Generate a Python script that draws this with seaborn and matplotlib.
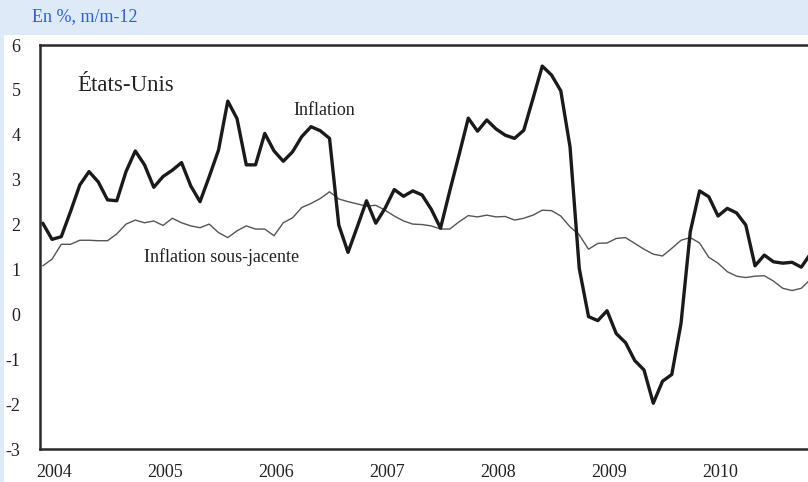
import matplotlib
matplotlib.use('Agg')
import matplotlib.pyplot as plt
import matplotlib.transforms as mtransforms
from matplotlib.patches import Rectangle
import numpy as np
import pandas as pd
import seaborn as sns

# Monthly year-on-year rates, Jan 2004 onwards
inflation = [2.03, 1.67, 1.73, 2.29, 2.88, 3.18, 2.95, 2.55, 2.53, 3.18, 3.64, 3.33,
             2.83, 3.07, 3.21, 3.38, 2.86, 2.51, 3.07, 3.66, 4.75, 4.36, 3.33, 3.33,
             4.03, 3.64, 3.41, 3.62, 3.96, 4.18, 4.09, 3.92, 1.99, 1.38, 1.95, 2.53,
             2.03, 2.36, 2.78, 2.63, 2.75, 2.66, 2.34, 1.92, 2.75, 3.55, 4.37, 4.08,
             4.33, 4.13, 3.99, 3.92, 4.10, 4.81, 5.53, 5.33, 4.98, 3.73, 1.02, -0.05,
             -0.14, 0.08, -0.43, -0.63, -1.03, -1.24, -1.98, -1.49, -1.34, -0.20, 1.84, 2.75,
             2.62, 2.19, 2.36, 2.26, 1.99, 1.08, 1.32, 1.17, 1.14, 1.16, 1.05, 1.35]
core = [1.08, 1.23, 1.56, 1.56, 1.65, 1.65, 1.64, 1.64, 1.79, 2.01, 2.10, 2.04,
        2.08, 1.98, 2.14, 2.04, 1.97, 1.93, 2.01, 1.82, 1.71, 1.86, 1.97, 1.90,
        1.90, 1.75, 2.04, 2.15, 2.38, 2.47, 2.58, 2.73, 2.57, 2.51, 2.46, 2.41,
        2.43, 2.32, 2.19, 2.08, 2.01, 2.00, 1.97, 1.90, 1.90, 2.06, 2.20, 2.17,
        2.21, 2.17, 2.18, 2.10, 2.14, 2.21, 2.32, 2.31, 2.19, 1.95, 1.77, 1.45,
        1.58, 1.59, 1.69, 1.71, 1.58, 1.45, 1.34, 1.30, 1.47, 1.65, 1.71, 1.59,
        1.27, 1.14, 0.95, 0.85, 0.82, 0.85, 0.86, 0.74, 0.58, 0.53, 0.58, 0.78]
years = [2004, 2005, 2006, 2007, 2008, 2009, 2010]

df = pd.DataFrame({'t': 2004 + (np.arange(len(inflation)) + 0.3) / 12,
                   'inflation': inflation, 'core': core})

sns.set_style('white')
plt.rcParams['font.family'] = ['Liberation Serif', 'DejaVu Serif']
plt.rcParams['axes.unicode_minus'] = False

W, H = 808, 482
fig = plt.figure(figsize=(W / 100, H / 100), dpi=100)
fig.patch.set_facecolor('white')
# light blue header band and left strip
fig.patches.append(Rectangle((0, 1 - 35 / H), 1, 35 / H, transform=fig.transFigure,
                             facecolor='#dfeaf8', edgecolor='none', zorder=0))
fig.patches.append(Rectangle((0, 0), 4 / W, 1, transform=fig.transFigure,
                             facecolor='#dfeaf8', edgecolor='none', zorder=0))
fig.text(32 / W, 1 - 17 / H, 'En %, m/m-12', color='#2b5fd9', fontsize=13, va='center')

ax = fig.add_axes([40 / W, 1 - 449 / H, 1 - 40 / W, (449 - 45) / H])
ax.set_facecolor('white')

sns.lineplot(data=df, x='t', y='core', ax=ax, color='#555555', lw=1.0)
sns.lineplot(data=df, x='t', y='inflation', ax=ax, color='#1a1a1a', lw=2.4)

ax.set_xlim(2004, 2004 + 768 / 111)
ax.set_ylim(-3, 6)
ax.set_yticks(range(-3, 7))
ax.set_xticks(years)
ax.set_xticklabels([str(y) for y in years])
ax.set_xlabel('')
ax.set_ylabel('')

ax.tick_params(axis='both', direction='in', length=6, width=1, color='#999999',
               labelsize=13, labelcolor='#222222')
ax.tick_params(axis='y', pad=14)
ax.tick_params(axis='x', pad=11)
shift = mtransforms.ScaledTranslation(-4 / 100, 0, fig.dpi_scale_trans)
for lab in ax.get_xticklabels():
    lab.set_horizontalalignment('left')
    lab.set_transform(lab.get_transform() + shift)

for side in ['left', 'top', 'bottom']:
    ax.spines[side].set_visible(True)
    ax.spines[side].set_color('#2a2a2a')
    ax.spines[side].set_linewidth(1.8)
ax.spines['right'].set_visible(False)

ax.text(0.048, 0.9, 'États-Unis', transform=ax.transAxes, fontsize=16.5,
        color='#222222', va='center', ha='left')
ax.text(2006.56, 4.53, 'Inflation', fontsize=13, color='#222222', ha='center', va='center')
ax.text(2005.64, 1.28, 'Inflation sous-jacente', fontsize=13, color='#222222',
        ha='center', va='center')

fig.savefig('out.png', dpi=100)
